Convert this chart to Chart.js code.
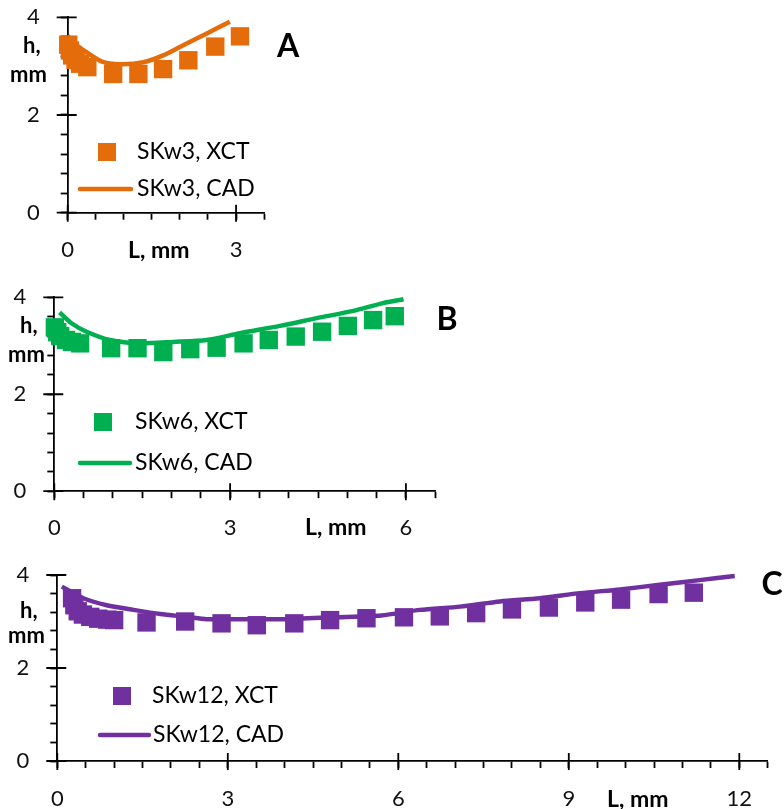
<!DOCTYPE html>
<html>
<head>
<meta charset="utf-8">
<script src="https://cdn.jsdelivr.net/npm/chart.js@4/dist/chart.umd.min.js"></script>
<style>
  html, body { margin: 0; padding: 0; background: #fff; }
  body { width: 784px; height: 809px; position: relative; overflow: hidden; }
  canvas { position: absolute; left: 0; }
</style>
</head>
<body>
<canvas id="chartA" width="320" height="272" style="top:0px"></canvas>
<canvas id="chartB" width="470" height="262" style="top:280px"></canvas>
<canvas id="chartC" width="784" height="254" style="top:555px"></canvas>
<script>
// Wall height h (mm) along the strut length L (mm): XCT measurements vs CAD model

// SKw3
const lenA_xct = [0.01, 0.04, 0.08, 0.14, 0.22, 0.35, 0.81, 1.26, 1.70, 2.15, 2.63, 3.07];
const hA_xct   = [3.44, 3.32, 3.22, 3.13, 3.05, 2.98, 2.84, 2.84, 2.94, 3.12, 3.40, 3.61];
const lenA_cad = [0.00, 0.08, 0.15, 0.34, 0.60, 0.93, 1.35, 1.70, 2.06, 2.48, 2.89];
const hA_cad   = [3.62, 3.52, 3.44, 3.28, 3.10, 3.04, 3.08, 3.22, 3.43, 3.67, 3.91];

// SKw6
const lenB_xct = [0.01, 0.05, 0.10, 0.20, 0.30, 0.44, 0.97, 1.42, 1.86, 2.32, 2.77, 3.23, 3.66, 4.12, 4.57, 5.01, 5.44, 5.81];
const hB_xct   = [3.38, 3.28, 3.20, 3.12, 3.08, 3.05, 2.95, 2.95, 2.87, 2.93, 2.96, 3.05, 3.12, 3.19, 3.29, 3.41, 3.53, 3.61];
const lenB_cad = [0.09, 0.30, 0.55, 0.95, 1.46, 2.03, 2.60, 3.17, 3.85, 4.48, 5.10, 5.61, 5.96];
const hB_cad   = [3.69, 3.46, 3.29, 3.12, 3.05, 3.08, 3.12, 3.26, 3.41, 3.57, 3.72, 3.88, 3.96];

// SKw12
const lenC_xct = [0.26, 0.30, 0.36, 0.45, 0.58, 0.72, 0.88, 1.00, 1.57, 2.25, 2.89, 3.51, 4.17, 4.80, 5.44, 6.10, 6.73, 7.37, 8.00, 8.65, 9.29, 9.92, 10.58, 11.20];
const hC_xct   = [3.50, 3.35, 3.22, 3.15, 3.10, 3.06, 3.04, 3.03, 2.98, 3.00, 2.96, 2.92, 2.96, 3.03, 3.07, 3.09, 3.11, 3.18, 3.26, 3.30, 3.41, 3.47, 3.59, 3.62];
const lenC_cad = [0.08, 0.46, 0.87, 1.34, 1.81, 2.28, 2.63, 3.10, 3.98, 4.86, 5.70, 6.38, 7.09, 7.79, 8.49, 9.20, 9.90, 10.60, 11.30, 11.92];
const hC_cad   = [3.75, 3.50, 3.35, 3.25, 3.16, 3.10, 3.05, 3.05, 3.05, 3.09, 3.13, 3.25, 3.32, 3.43, 3.50, 3.61, 3.69, 3.79, 3.89, 3.98];

const xMajorTicks = [0, 3, 6, 9, 12];
const yMajorTicks = [0, 2, 4];

const FONT = 'Lato, "Open Sans", sans-serif';
const COLORS = { A: '#E46C0A', B: '#00B050', C: '#7030A0' };

function pts(xs, ys) { return xs.map((x, i) => ({ x: x, y: ys[i] })); }

// Axis extras: crossing major ticks, axis captions, panel letter and an in-plot legend
function decorPlugin(p) {
  return {
    id: 'panelDecor',
    afterDraw(chart) {
      const ctx = chart.ctx;
      const xs = chart.scales.x, ys = chart.scales.y;
      const area = chart.chartArea;
      ctx.save();
      ctx.strokeStyle = '#000';
      ctx.lineWidth = 1.8;
      ctx.beginPath();
      xMajorTicks.filter(v => v <= xs.max).forEach(v => {
        const px = xs.getPixelForValue(v);
        ctx.moveTo(px, area.bottom - 8); ctx.lineTo(px, area.bottom + 9);
      });
      yMajorTicks.forEach(v => {
        const py = ys.getPixelForValue(v);
        ctx.moveTo(area.left - 11, py); ctx.lineTo(area.left + 9, py);
      });
      ctx.stroke();

      ctx.fillStyle = '#000';
      ctx.textBaseline = 'alphabetic';
      ctx.textAlign = 'left';
      ctx.font = 'bold 22px ' + FONT;
      ctx.fillText('h,', p.hX, p.hY);
      ctx.fillText('mm', p.mmX, p.mmY);
      ctx.font = 'bold 23px ' + FONT;
      ctx.fillText('L, mm', p.lX, p.lY);
      ctx.font = 'bold 32px ' + FONT;
      ctx.textAlign = 'center';
      ctx.fillText(p.letter, p.letterX, p.letterY);

      // legend
      const dsPts = chart.data.datasets[0], dsLine = chart.data.datasets[1];
      ctx.fillStyle = dsPts.backgroundColor;
      const s = 18;
      ctx.fillRect(p.legX - s / 2, p.legY1 - s / 2, s, s);
      ctx.strokeStyle = dsLine.borderColor;
      ctx.lineWidth = dsLine.borderWidth;
      ctx.lineCap = 'round';
      ctx.beginPath();
      ctx.moveTo(p.lineX0, p.legY2); ctx.lineTo(p.lineX1, p.legY2);
      ctx.stroke();
      ctx.fillStyle = '#000';
      ctx.textAlign = 'left';
      ctx.textBaseline = 'middle';
      ctx.font = '23px ' + FONT;
      ctx.fillText(dsPts.label, p.textX, p.legY1);
      ctx.fillText(dsLine.label, p.textX2, p.legY2);
      ctx.restore();
    }
  };
}

function makePanel(id, color, name, xct, cad, geo, deco) {
  const canvas = document.getElementById(id);
  const H = canvas.height, W = canvas.width;
  return new Chart(canvas, {
    type: 'scatter',
    data: {
      datasets: [
        {
          label: name + ', XCT',
          data: xct,
          backgroundColor: color,
          borderWidth: 0,
          pointStyle: 'rect',
          pointRadius: 13,
          pointHoverRadius: 13,
          clip: false
        },
        {
          label: name + ', CAD',
          data: cad,
          showLine: true,
          borderColor: color,
          backgroundColor: color,
          borderWidth: 4.5,
          pointRadius: 0,
          tension: 0.25,
          clip: false
        }
      ]
    },
    options: {
      responsive: false,
      animation: false,
      events: [],
      layout: { autoPadding: false, padding: { top: geo.top, right: W - geo.right, bottom: 0, left: 0 } },
      plugins: { legend: { display: false }, tooltip: { enabled: false } },
      scales: {
        x: {
          type: 'linear',
          min: 0, max: geo.xMax,
          afterFit: s => { s.height = H - geo.bottom; s.paddingLeft = 0; s.paddingRight = 0; },
          border: { display: true, color: '#000', width: 1.8 },
          grid: { display: true, drawOnChartArea: false, drawTicks: true, tickLength: 7, tickColor: '#000', tickWidth: 1.8 },
          ticks: {
            stepSize: 0.5,
            autoSkip: false, maxRotation: 0,
            padding: geo.xPad,
            color: '#111',
            font: { family: FONT, size: 22 },
            callback: v => (Math.abs(v / 3 - Math.round(v / 3)) < 1e-6 ? String(v) : '')
          }
        },
        y: {
          type: 'linear',
          min: 0, max: 4,
          afterFit: s => { s.width = geo.left; s.paddingTop = 0; s.paddingBottom = 0; },
          border: { display: true, color: '#000', width: 1.8 },
          grid: { display: true, drawOnChartArea: false, drawTicks: true, tickLength: 7, tickColor: '#000', tickWidth: 1.8 },
          ticks: {
            stepSize: 0.4,
            autoSkip: false,
            padding: 21,
            color: '#111',
            font: { family: FONT, size: 22 },
            callback: v => (Math.abs(v / 2 - Math.round(v / 2)) < 1e-6 ? String(Math.round(v)) : '')
          }
        }
      }
    },
    plugins: [decorPlugin(deco)]
  });
}

makePanel('chartA', COLORS.A, 'SKw3', pts(lenA_xct, hA_xct), pts(lenA_cad, hA_cad),
  { left: 67.7, right: 264.1, top: 17.3, bottom: 212.7, xMax: 3.5, xPad: 17 },
  { hX: 23, hY: 53, mmX: 10, mmY: 82, lX: 128, lY: 258, letter: 'A', letterX: 288, letterY: 57,
    legX: 107, legY1: 152, lineX0: 80, lineX1: 131, legY2: 189, textX: 137, textX2: 137 });

makePanel('chartB', COLORS.B, 'SKw6', pts(lenB_xct, hB_xct), pts(lenB_cad, hB_cad),
  { left: 54.3, right: 435.2, top: 17.3, bottom: 211.2, xMax: 6.5, xPad: 17 },
  { hX: 20, hY: 53, mmX: 8, mmY: 82, lX: 305, lY: 255, letter: 'B', letterX: 447, letterY: 50,
    legX: 103, legY1: 142, lineX0: 80, lineX1: 130, legY2: 183, textX: 135, textX2: 135 });

makePanel('chartC', COLORS.C, 'SKw12', pts(lenC_xct, hC_xct), pts(lenC_cad, hC_cad),
  { left: 57.3, right: 767.7, top: 20, bottom: 206, xMax: 12.5, xPad: 18 },
  { hX: 20, hY: 63, mmX: 8, mmY: 88, lX: 607, lY: 252, letter: 'C', letterX: 772, letterY: 40,
    legX: 122, legY1: 141, lineX0: 100, lineX1: 149, legY2: 180, textX: 152, textX2: 153 });
</script>
</body>
</html>
